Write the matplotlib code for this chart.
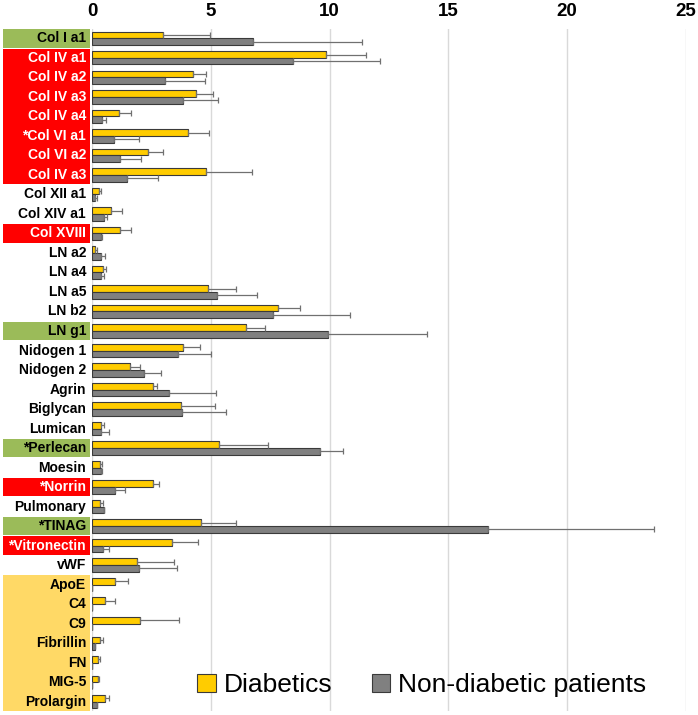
import matplotlib.pyplot as plt
import matplotlib.transforms as mtransforms
from matplotlib.patches import Rectangle

plt.rcParams['font.family'] = ['Liberation Sans', 'DejaVu Sans']

# Datos (de arriba hacia abajo)
proteinas = ["Col I a1", "Col IV a1", "Col IV a2", "Col IV a3", "Col IV a4",
             "*Col VI a1", "Col VI a2", "Col IV a3", "Col XII a1", "Col XIV a1",
             "Col XVIII", "LN a2", "LN a4", "LN a5", "LN b2", "LN g1",
             "Nidogen 1", "Nidogen 2", "Agrin", "Biglycan", "Lumican",
             "*Perlecan", "Moesin", "*Norrin", "Pulmonary", "*TINAG",
             "*Vitronectin", "vWF", "ApoE", "C4", "C9", "Fibrillin", "FN",
             "MIG-5", "Prolargin"]

diabeticos = [2.97, 9.83, 4.24, 4.38, 1.15, 4.05, 2.34, 4.80, 0.28, 0.81,
              1.18, 0.14, 0.48, 4.89, 7.84, 6.47, 3.84, 1.60, 2.55, 3.74,
              0.39, 5.36, 0.32, 2.55, 0.32, 4.59, 3.38, 1.88, 0.97, 0.53,
              2.03, 0.32, 0.27, 0.24, 0.56]
diabeticos_sup = [4.97, 11.53, 4.79, 5.10, 1.64, 4.94, 2.98, 6.72, 0.36, 1.26,
                  1.64, 0.20, 0.59, 6.04, 8.77, 7.28, 4.54, 2.03, 2.75, 5.18,
                  0.52, 7.41, 0.42, 2.83, 0.45, 6.08, 4.48, 3.45, 1.51, 0.95,
                  3.68, 0.46, 0.35, 0.31, 0.71]

no_diabeticos = [6.79, 8.47, 3.07, 3.84, 0.42, 0.94, 1.18, 1.46, 0.14, 0.52,
                 0.38, 0.38, 0.39, 5.27, 7.63, 9.92, 3.60, 2.17, 3.22, 3.77,
                 0.39, 9.58, 0.38, 0.95, 0.49, 16.65, 0.45, 1.96, 0.02, 0.0,
                 0.0, 0.11, 0.0, 0.0, 0.20]
no_diabeticos_sup = [11.38, 12.11, 4.76, 5.29, 0.57, 1.96, 2.07, 2.77, 0.20, 0.62,
                     0.42, 0.56, 0.50, 6.93, 10.86, 14.11, 5.01, 2.91, 5.24, 5.66,
                     0.73, 10.56, 0.42, 1.37, 0.49, 23.67, 0.70, 3.57, 0.02, 0.0,
                     0.0, 0.11, 0.0, 0.0, 0.20]

# Grupo resaltado de cada etiqueta
grupos = ['verde', 'rojo', 'rojo', 'rojo', 'rojo', 'rojo', 'rojo', 'rojo', '', '',
          'rojo', '', '', '', '', 'verde', '', '', '', '', '',
          'verde', '', 'rojo', '', 'verde', 'rojo', '', 'naranja', 'naranja',
          'naranja', 'naranja', 'naranja', 'naranja', 'naranja']
colores_grupo = {'verde': '#9BBB59', 'rojo': '#FF0000', 'naranja': '#FFD966'}

n = len(proteinas)
y = list(range(n))
alto = 0.34

fig = plt.figure(figsize=(6.98, 7.15), dpi=100)
ax = fig.add_axes([0.1318, 0.005, 0.851, 0.955])

err_d = [[0] * n, [s - v for s, v in zip(diabeticos_sup, diabeticos)]]
err_n = [[0] * n, [s - v for s, v in zip(no_diabeticos_sup, no_diabeticos)]]

ax.barh([i - alto / 2 for i in y], diabeticos, height=alto, color='#FFCC00',
        edgecolor='#3a3a3a', linewidth=0.8, label='Diabetics', zorder=3,
        xerr=err_d, error_kw=dict(ecolor='#707070', elinewidth=0.9, capsize=2, capthick=0.9))
ax.barh([i + alto / 2 for i in y], no_diabeticos, height=alto, color='#808080',
        edgecolor='#3a3a3a', linewidth=0.8, label='Non-diabetic patients', zorder=3,
        xerr=err_n, error_kw=dict(ecolor='#707070', elinewidth=0.9, capsize=2, capthick=0.9))

ax.set_xlim(0, 25)
ax.set_ylim(n - 0.5, -0.5)
ax.set_xticks([0, 5, 10, 15, 20, 25])
ax.xaxis.tick_top()
ax.tick_params(axis='x', length=0, pad=6, labelsize=13.5)
for t in ax.get_xticklabels():
    t.set_fontweight('bold')
ax.set_yticks([])
ax.grid(axis='x', color='#D9D9D9', linewidth=1, zorder=0)
for s in ax.spines.values():
    s.set_visible(False)

# Fondos de las etiquetas y textos
trans = mtransforms.blended_transform_factory(ax.transAxes, ax.transData)
i = 0
while i < n:
    g = grupos[i]
    j = i
    while j + 1 < n and grupos[j + 1] == g:
        j += 1
    if g:
        ax.add_patch(Rectangle((-0.150, i - 0.47), 0.146, (j - i) + 0.94,
                               transform=trans, facecolor=colores_grupo[g],
                               edgecolor='none', clip_on=False))
    i = j + 1

for i, nombre in enumerate(proteinas):
    color_txt = 'white' if grupos[i] == 'rojo' else 'black'
    ax.text(-0.010, i, nombre, transform=trans, ha='right', va='center',
            fontsize=10, fontweight='bold', color=color_txt, clip_on=False)

ax.legend(loc='center', bbox_to_anchor=(0.555, 0.038), ncol=2, frameon=False,
          fontsize=19, handlelength=0.7, handleheight=0.7, handletextpad=0.3,
          columnspacing=1.5)

fig.savefig('out.png', dpi=100)
